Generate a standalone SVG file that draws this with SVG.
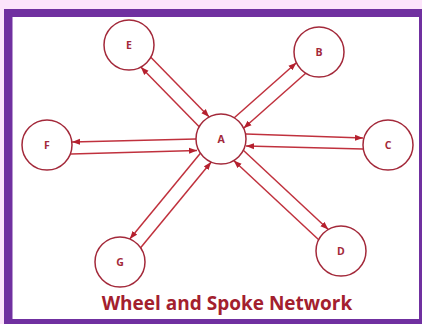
<svg xmlns="http://www.w3.org/2000/svg" width="422" height="324" viewBox="0 0 422 324">
<style>
.node circle{fill:#ffffff;stroke:#a3293a;stroke-width:1.5}
.node text{font-family:"Open Sans","Liberation Sans",sans-serif;font-weight:bold;font-size:10.5px;fill:#a3293a;text-anchor:middle}
.conn path{fill:none;stroke:#c0313d;stroke-width:1.5}
.title{font-family:"Open Sans","Liberation Sans",sans-serif;font-weight:bold;font-size:19px;fill:#a3202e;text-anchor:middle}
</style>
<defs>
<marker id="ah" markerUnits="userSpaceOnUse" markerWidth="9" markerHeight="7" refX="8" refY="3.5" orient="auto">
<path d="M0,0.5 L8,3.5 L0,6.5 z" fill="#b5202e"/>
</marker>
</defs>
<rect x="0" y="0" width="422" height="324" fill="#fce4fb"/>
<rect x="4" y="9" width="418" height="315" fill="#7030a0"/>
<rect x="12.5" y="17" width="406.5" height="302" fill="#ffffff"/>
<g class="conn">
<path d="M199.2,126.7 L140.8,67.1" marker-end="url(#ah)"/>
<path d="M150.8,57.3 L209.2,116.9" marker-end="url(#ah)"/>
<path d="M234.3,117.8 L296.4,62.7" marker-end="url(#ah)"/>
<path d="M305.7,73.2 L243.6,128.3" marker-end="url(#ah)"/>
<path d="M196,139 L72,142" marker-end="url(#ah)"/>
<path d="M71,154 L197,150.5" marker-end="url(#ah)"/>
<path d="M246,134 L363,138" marker-end="url(#ah)"/>
<path d="M363,149 L246,146" marker-end="url(#ah)"/>
<path d="M200.4,153.2 L129.8,239" marker-end="url(#ah)"/>
<path d="M140.6,247.8 L211.2,162" marker-end="url(#ah)"/>
<path d="M243.3,150.3 L328.3,229.5" marker-end="url(#ah)"/>
<path d="M318.7,239.7 L233.7,160.5" marker-end="url(#ah)"/>
</g>
<g id="node-A" class="node"><circle cx="221" cy="139" r="25"/><text x="221" y="143">A</text></g>
<g id="node-E" class="node"><circle cx="129" cy="45" r="25"/><text x="129" y="49">E</text></g>
<g id="node-B" class="node"><circle cx="319" cy="52" r="25"/><text x="319" y="56">B</text></g>
<g id="node-F" class="node"><circle cx="47" cy="145" r="25"/><text x="47" y="149">F</text></g>
<g id="node-C" class="node"><circle cx="388" cy="145" r="25"/><text x="388" y="149">C</text></g>
<g id="node-G" class="node"><circle cx="120" cy="262" r="25"/><text x="120" y="266">G</text></g>
<g id="node-D" class="node"><circle cx="341" cy="251" r="25"/><text x="341" y="255">D</text></g>
<text class="title" x="227" y="310">Wheel and Spoke Network</text>
</svg>
